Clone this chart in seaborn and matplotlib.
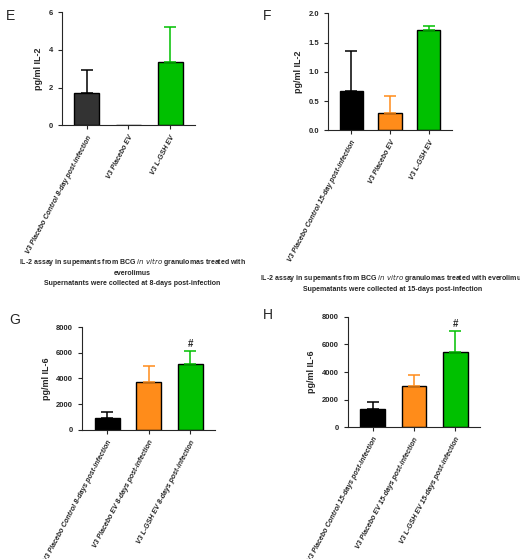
import matplotlib
matplotlib.use("Agg")
import matplotlib.pyplot as plt
import pandas as pd
import seaborn as sns

sns.set_style("ticks")
plt.rcParams["font.family"] = ["Liberation Sans", "DejaVu Sans"]

E_LABELS = ["V3 Placebo Control 8-day post-infection", "V3 Placebo EV", "V3 L-GSH EV"]
E_MEAN = [1.7, 0.0, 3.35]
E_SD = [1.25, 0.0, 1.85]

F_LABELS = ["V3 Placebo Control 15-day post-infection", "V3 Placebo EV", "V3 L-GSH EV"]
F_MEAN = [0.67, 0.29, 1.72]
F_SD = [0.68, 0.30, 0.07]

G_LABELS = ["V3 Placebo Control 8-days post-infection", "V3 Placebo EV 8-days post-infection",
            "V3 L-GSH EV 8-days post-infection"]
G_MEAN = [900, 3700, 5100]
G_SD = [500, 1300, 1000]

H_LABELS = ["V3 Placebo Control 15-days post-infection", "V3 Placebo EV 15-days post-infection",
            "V3 L-GSH EV 15-days post-infection"]
H_MEAN = [1300, 2950, 5450]
H_SD = [500, 850, 1550]

E_COLORS = ["#333333", "#ff8c1a", "#00c000"]
COLORS = ["#000000", "#ff8c1a", "#00c000"]

fig = plt.figure(figsize=(5.2, 5.59), dpi=100)


def panel(rect, labels, mean, sd, colors, ylim, yticks, ylabel, fmt, hash_mark=False):
    ax = fig.add_axes(rect)
    df = pd.DataFrame({"group": labels, "value": mean})
    sns.barplot(data=df, x="group", y="value", hue="group", palette=colors, saturation=1,
                edgecolor="black", linewidth=1.0, width=0.6, legend=False, ax=ax)
    for i, (m, s) in enumerate(zip(mean, sd)):
        if s > 0:
            ax.errorbar(i, m, yerr=[[0], [s]], color=colors[i] if i else "black",
                        capsize=4, elinewidth=1.1, capthick=1.1)
    if hash_mark:
        ax.text(2, mean[2] + sd[2] + ylim[1] * 0.02, "#", ha="center", va="bottom",
                fontsize=7, fontweight="bold")
    ax.set_ylim(*ylim)
    ax.set_yticks(yticks)
    ax.set_yticklabels([fmt.format(t) for t in yticks], fontsize=5.5, fontweight="bold")
    ax.set_ylabel(ylabel, fontsize=6.5, fontweight="bold")
    ax.set_xlabel("")
    ax.set_xticks(range(3))
    ax.set_xticklabels(labels, rotation=62, ha="right", rotation_mode="anchor",
                       fontsize=5, fontweight="bold", style="italic")
    ax.tick_params(length=3, width=0.8)
    sns.despine(ax=ax)
    ax.set_xlim(-0.6, 2.6)
    return ax


panel([0.119, 0.776, 0.256, 0.202], E_LABELS, E_MEAN, E_SD, E_COLORS,
      (0, 6), [0, 2, 4, 6], "pg/ml IL-2", "{:g}")
panel([0.631, 0.767, 0.238, 0.209], F_LABELS, F_MEAN, F_SD, COLORS,
      (0, 2.0), [0, 0.5, 1.0, 1.5, 2.0], "pg/ml IL-2", "{:.1f}")
panel([0.158, 0.231, 0.256, 0.184], G_LABELS, G_MEAN, G_SD, COLORS,
      (0, 8000), [0, 2000, 4000, 6000, 8000], "pg/ml IL-6", "{:g}", True)
panel([0.669, 0.236, 0.254, 0.197], H_LABELS, H_MEAN, H_SD, COLORS,
      (0, 8000), [0, 2000, 4000, 6000, 8000], "pg/ml IL-6", "{:g}", True)

for x, y, s in [(0.012, 0.965, "E"), (0.505, 0.965, "F"), (0.018, 0.42, "G"), (0.505, 0.43, "H")]:
    fig.text(x, y, s, fontsize=10)

fig.text(0.255, 0.515, "IL-2 assay in supemants from BCG $\\it{in\\ vitro}$ granulomas treated with\n"
         "everolimus\nSupernatants were collected at 8-days post-infection",
         ha="center", va="center", fontsize=5, fontweight="bold", linespacing=1.5)
fig.text(0.755, 0.495, "IL-2 assay in supemants from BCG $\\it{in\\ vitro}$ granulomas treated with everolimus\n"
         "Supematants were collected at 15-days post-infection",
         ha="center", va="center", fontsize=5, fontweight="bold", linespacing=1.5)

fig.savefig("out.png", dpi=100)
